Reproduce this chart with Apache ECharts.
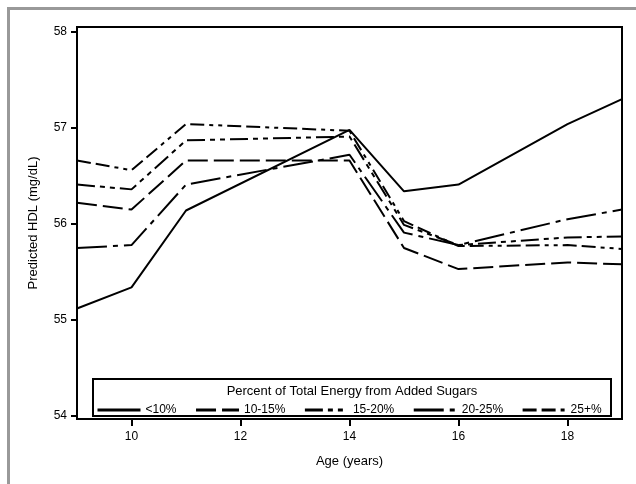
<!DOCTYPE html>
<html>
<head>
<meta charset="utf-8">
<script src="https://cdn.jsdelivr.net/npm/echarts@6/dist/echarts.min.js"></script>
<style>
  html, body { margin: 0; padding: 0; background: #fff; }
  #line { width: 636px; height: 484px; }
</style>
</head>
<body>
<div id="line"></div>
<script>
  // ages where the curves bend
  var ages = [9, 10, 11, 14, 15, 16, 18, 19];
  var groupNames = ['<10%', '10-15%', '15-20%', '20-25%', '25+%'];
  var under10 = [55.12, 55.34, 56.14, 56.98, 56.34, 56.41, 57.04, 57.30];
  var from10to15 = [56.22, 56.15, 56.66, 56.66, 55.75, 55.53, 55.60, 55.58];
  var from15to20 = [56.41, 56.36, 56.87, 56.91, 55.99, 55.78, 55.86, 55.87];
  var from20to25 = [55.75, 55.78, 56.41, 56.72, 55.91, 55.78, 56.05, 56.15];
  var over25 = [56.66, 56.56, 57.04, 56.97, 56.03, 55.77, 55.78, 55.74];
  var xTicks = [10, 12, 14, 16, 18];
  var yTicks = [54, 55, 56, 57, 58];

  var dashes = [
    'solid',
    [20, 6],
    [18, 5, 5, 5, 5, 5],
    [30, 6, 5, 6],
    [14, 5, 14, 5, 4, 5, 4, 5]
  ];
  var groups = [under10, from10to15, from15to20, from20to25, over25];
  var font = 'Liberation Sans, Arial, sans-serif';

  var series = [];
  for (var i = 0; i < groups.length; i++) {
    var pts = [];
    for (var j = 0; j < ages.length; j++) {
      pts.push([ages[j], groups[i][j]]);
    }
    series.push({
      name: groupNames[i],
      type: 'line',
      symbol: 'none',
      data: pts,
      lineStyle: { color: '#000', width: 2, type: dashes[i] },
      itemStyle: { color: '#000' }
    });
  }

  var chart = echarts.init(document.getElementById('line'));
  chart.setOption({
    animation: false,
    backgroundColor: '#fff',
    textStyle: { fontFamily: font, color: '#000' },
    grid: {
      left: 77, right: 14, top: 27, bottom: 65,
      show: true, borderColor: '#000', borderWidth: 2
    },
    xAxis: {
      type: 'value',
      min: 9, max: 19,
      name: 'Age (years)',
      nameLocation: 'middle',
      nameGap: 36,
      nameTextStyle: { fontSize: 13, color: '#000', fontFamily: font },
      axisLine: { show: true, lineStyle: { color: '#000', width: 2 } },
      axisTick: { show: true, customValues: xTicks, length: 7, lineStyle: { color: '#000', width: 2 } },
      axisLabel: { customValues: xTicks, margin: 12, fontSize: 12, color: '#000', fontFamily: font },
      splitLine: { show: false }
    },
    yAxis: {
      type: 'value',
      min: 53.97, max: 58.05,
      name: 'Predicted HDL (mg/dL)',
      nameLocation: 'middle',
      nameGap: 37,
      nameTextStyle: { fontSize: 13, color: '#000', fontFamily: font },
      axisLine: { show: true, lineStyle: { color: '#000', width: 2 } },
      axisTick: { show: true, customValues: yTicks, length: 6, lineStyle: { color: '#000', width: 2 } },
      axisLabel: { customValues: yTicks, margin: 10, fontSize: 12, color: '#000', fontFamily: font },
      splitLine: { show: false }
    },
    legend: {
      data: groupNames,
      left: 91, top: 399,
      itemWidth: 43, itemHeight: 10, itemGap: 18,
      selectedMode: false,
      z: 5,
      itemStyle: { opacity: 0 },
      lineStyle: { width: 3 },
      textStyle: { fontSize: 12, color: '#000', fontFamily: font }
    },
    graphic: [
      { type: 'rect', z: 1, shape: { x: 93, y: 379, width: 518, height: 37 },
        style: { fill: '#fff', stroke: '#000', lineWidth: 2 } },
      { type: 'text', z: 2, x: 352, y: 391,
        style: { text: 'Percent of Total Energy from Added Sugars', fontSize: 13, fontFamily: font,
                 fill: '#000', textAlign: 'center', textVerticalAlign: 'middle' } },
      { type: 'rect', z: 10, shape: { x: 7, y: 7, width: 629, height: 3 }, style: { fill: '#999' } },
      { type: 'rect', z: 10, shape: { x: 7, y: 7, width: 3, height: 477 }, style: { fill: '#999' } }
    ],
    series: series
  });
</script>
</body>
</html>
